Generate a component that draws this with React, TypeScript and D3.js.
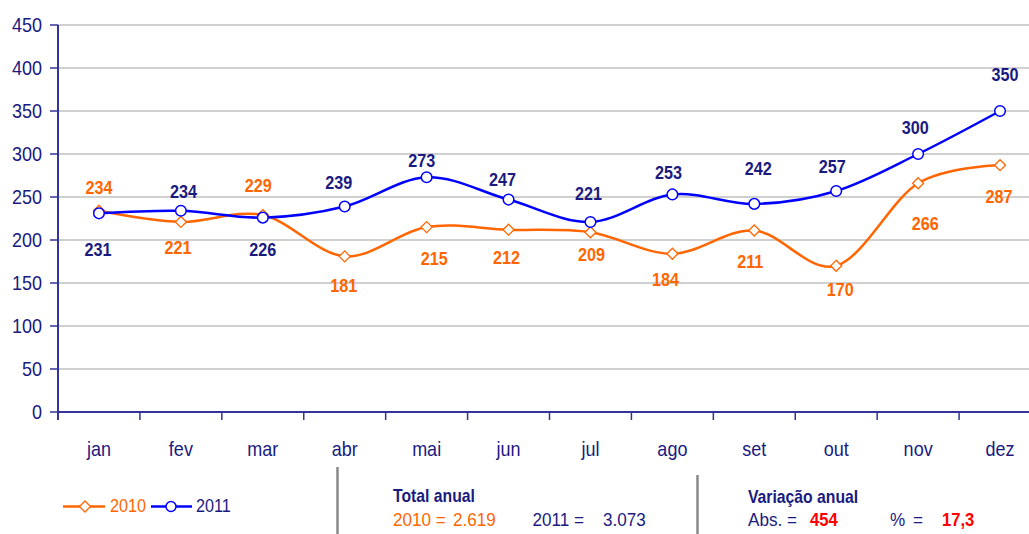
import React from 'react';
import * as d3 from 'd3';

const months = ['jan', 'fev', 'mar', 'abr', 'mai', 'jun', 'jul', 'ago', 'set', 'out', 'nov', 'dez'];
const values2010 = [234, 221, 229, 181, 215, 212, 209, 184, 211, 170, 266, 287];
const values2011 = [231, 234, 226, 239, 273, 247, 221, 253, 242, 257, 300, 350];
const yTicks = [0, 50, 100, 150, 200, 250, 300, 350, 400, 450];
const seriesNames = ['2010', '2011'];
const totalLabel = 'Total anual';
const totals = ['2.619', '3.073'];
const variationLabel = 'Variação anual';
const variationAbs = '454';
const variationPct = '17,3';

// label layout (pixel offsets of data labels relative to their points)
const lbl2010dx = [0, -3, -4.5, -1, 7.5, -2, 1, -7, -4, 4, 7, -1];
const lbl2010dy = [-23.5, 25.8, -30, 28.7, 31, 27.6, 22.7, 26, 30.5, 24, 40, 31];
const lbl2011dx = [-1, 2.5, 0, -6, -5, -6, -2, -4, 4, -4, -3, 5];
const lbl2011dy = [35.7, -19, 31.4, -24, -16.5, -20, -28.6, -22, -35, -24, -26, -36];

const W = 1029;
const H = 534;
const FONT = '"Liberation Sans", Arial, sans-serif';
const NAVY = '#1a1a80';
const AXIS = '#333399';
const ORANGE = '#ff6600';
const BLUE = '#0000ff';
const RED = '#ff0000';
const SX = 0.9;

function T(props: any) {
  const { x, y, anchor = 'start', size = 18, weight = 'normal', fill = NAVY, dy, children } = props;
  return (
    <text
      transform={`translate(${x},${y}) scale(${SX},1)`}
      textAnchor={anchor}
      fontSize={size}
      fontWeight={weight}
      fill={fill}
      fontFamily={FONT}
      dy={dy}
    >
      {children}
    </text>
  );
}

export default function App() {
  const left = 58;
  const x = d3.scaleBand<string>().domain(months).range([left, 1041]);
  const y = d3.scaleLinear().domain([0, 450]).range([412, 25]);
  const cx = (m: string) => (x(m) as number) + x.bandwidth() / 2;

  const line = d3
    .line<number>()
    .x((_, i) => cx(months[i]))
    .y((d) => y(d))
    .curve(d3.curveCardinal.tension(0));

  const diamond = (px: number, py: number, r: number) =>
    `M${px},${py - r}L${px + r},${py}L${px},${py + r}L${px - r},${py}Z`;

  return (
    <div style={{ position: 'absolute', left: 0, top: 0 }}>
      <svg width={W} height={H} style={{ display: 'block', background: '#fff' }}>
        {/* gridlines */}
        {yTicks.filter((t) => t > 0).map((t) => (
          <line key={t} x1={left} x2={W} y1={y(t)} y2={y(t)} stroke="#c0c0c0" strokeWidth={1.5} />
        ))}
        {/* y axis */}
        <line x1={left} x2={left} y1={y(450)} y2={420} stroke={AXIS} strokeWidth={2} />
        {yTicks.map((t) => (
          <g key={t}>
            <line x1={50} x2={left} y1={y(t)} y2={y(t)} stroke={AXIS} strokeWidth={1.5} />
            <T x={42} y={y(t)} anchor="end" size={20} dy="0.36em">{t}</T>
          </g>
        ))}
        {/* x axis */}
        <line x1={left} x2={W} y1={y(0)} y2={y(0)} stroke={AXIS} strokeWidth={2} />
        {months.map((m) => (
          <line key={m} x1={x(m) as number} x2={x(m) as number} y1={y(0)} y2={420} stroke={AXIS} strokeWidth={1.5} />
        ))}
        {months.map((m) => (
          <T key={m} x={cx(m)} y={456} anchor="middle" size={20}>{m}</T>
        ))}

        {/* series */}
        <path d={line(values2010) || ''} fill="none" stroke={ORANGE} strokeWidth={2.5} />
        <path d={line(values2011) || ''} fill="none" stroke={BLUE} strokeWidth={2.5} />
        {values2010.map((v, i) => (
          <path key={i} d={diamond(cx(months[i]), y(v), 5.5)} fill="#fff" stroke={ORANGE} strokeWidth={1.3} />
        ))}
        {values2011.map((v, i) => (
          <circle key={i} cx={cx(months[i])} cy={y(v)} r={5.3} fill="#fff" stroke={BLUE} strokeWidth={1.5} />
        ))}
        {values2010.map((v, i) => (
          <T key={i} x={cx(months[i]) + lbl2010dx[i]} y={y(v) + lbl2010dy[i]} anchor="middle" size={18} weight="bold" fill={ORANGE} dy="0.36em">{v}</T>
        ))}
        {values2011.map((v, i) => (
          <T key={i} x={cx(months[i]) + lbl2011dx[i]} y={y(v) + lbl2011dy[i]} anchor="middle" size={18} weight="bold" fill={NAVY} dy="0.36em">{v}</T>
        ))}

        {/* legend */}
        <line x1={63} x2={105} y1={506.5} y2={506.5} stroke={ORANGE} strokeWidth={2.5} />
        <path d={diamond(85, 506.5, 5.5)} fill="#fff" stroke={ORANGE} strokeWidth={1.3} />
        <T x={110} y={512} size={18} fill={ORANGE}>{seriesNames[0]}</T>
        <line x1={151} x2={192} y1={506.5} y2={506.5} stroke={BLUE} strokeWidth={2.5} />
        <circle cx={171} cy={506.5} r={5} fill="#fff" stroke={BLUE} strokeWidth={1.5} />
        <T x={196} y={512} size={18} fill={NAVY}>{seriesNames[1]}</T>

        {/* separators */}
        <line x1={337.5} x2={337.5} y1={467} y2={H} stroke="#888" strokeWidth={2.5} />
        <line x1={697.5} x2={697.5} y1={475} y2={H} stroke="#888" strokeWidth={2.5} />

        {/* totals */}
        <T x={393} y={502} size={17.5} weight="bold">{totalLabel}</T>
        <T x={393} y={526} size={19} fill={ORANGE}>{seriesNames[0]} =</T>
        <T x={453} y={526} size={19} fill={ORANGE}>{totals[0]}</T>
        <T x={532.5} y={526} size={19}>{seriesNames[1]}  =</T>
        <T x={603} y={526} size={19}>{totals[1]}</T>

        {/* variation */}
        <T x={748} y={503} size={17.5} weight="bold">{variationLabel}</T>
        <T x={748} y={526} size={19}>Abs.  =</T>
        <T x={810} y={526} size={18.5} weight="bold" fill={RED}>{variationAbs}</T>
        <T x={890} y={526} size={19}>%</T>
        <T x={913} y={526} size={19}>=</T>
        <T x={942} y={526} size={18.5} weight="bold" fill={RED}>{variationPct}</T>
      </svg>
    </div>
  );
}
